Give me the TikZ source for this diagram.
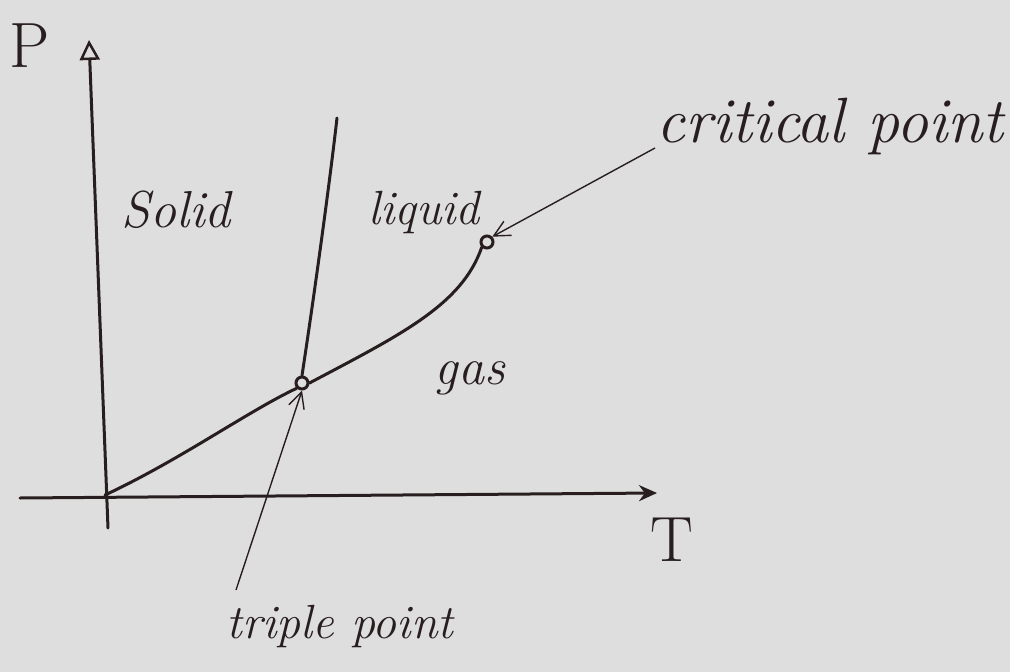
\documentclass[tikz,border=0pt]{standalone}
\usetikzlibrary{arrows.meta}
\definecolor{paper}{RGB}{222,222,222}
\definecolor{ink}{RGB}{40,30,32}
\newcommand{\handsz}[1]{\fontsize{#1}{#1}\selectfont\itshape}
\begin{document}
\begin{tikzpicture}[x=1pt,y=-1pt,
  axis/.style={ink,line width=3pt,line cap=round},
  curve/.style={ink,line width=3pt,line cap=round},
  pointer/.style={ink,line width=1.4pt,-{Straight Barb[length=16pt,width=16pt]}},
  lbl/.style={ink,inner sep=0pt},
  pt/.style={circle,draw=ink,line width=3pt,minimum size=12pt,inner sep=0pt}]
\fill[paper] (0,0) rectangle (1010,672);
\useasboundingbox (0,0) rectangle (1010,672);
% axes
\coordinate (o) at (105,495);
\coordinate (ybot) at (108,528);
\coordinate (ytop) at (89,40);
\coordinate (xleft) at (20,498);
\coordinate (xright) at (657,493);
\draw[axis,-{Triangle[open,length=20pt,width=20pt,line width=2.5pt]}] (ybot) -- (ytop);
\draw[axis,-{Stealth[length=18pt,width=16pt]}] (xleft) -- (xright);
\node[lbl,font=\fontsize{64}{64}\selectfont] (P) at (30,46) {P};
\node[lbl,font=\fontsize{64}{64}\selectfont] (T) at (672,540) {T};
% points
\node[pt] (tp) at (302,383) {};
\node[pt] (cp) at (487,242) {};
\coordinate (melttop) at (337,118);
% curves
\draw[curve] (o) .. controls (180,460) and (250,410) .. (tp.south west);
\draw[curve] (tp.north) .. controls (315,290) and (330,180) .. (melttop);
\draw[curve] (tp.east) .. controls (400,335) and (462,305) .. (cp.south west);
% region labels
\node[lbl,font=\handsz{52}] (solid) at (176,210) {Solid};
\node[lbl,font=\handsz{48}] (liquid) at (424,212) {liquid};
\node[lbl,font=\handsz{52}] (gas) at (470,378) {gas};
% annotations
\node[lbl,font=\handsz{64}] (crit) at (830,126) {critical point};
\node[lbl,font=\handsz{48}] (trip) at (340,626) {triple point};
\coordinate (cstart) at (655,148);
\coordinate (tstart) at (236,590);
\draw[pointer] (cstart) -- (cp.north east);
\draw[pointer] (tstart) -- (tp.south);
\end{tikzpicture}
\end{document}
